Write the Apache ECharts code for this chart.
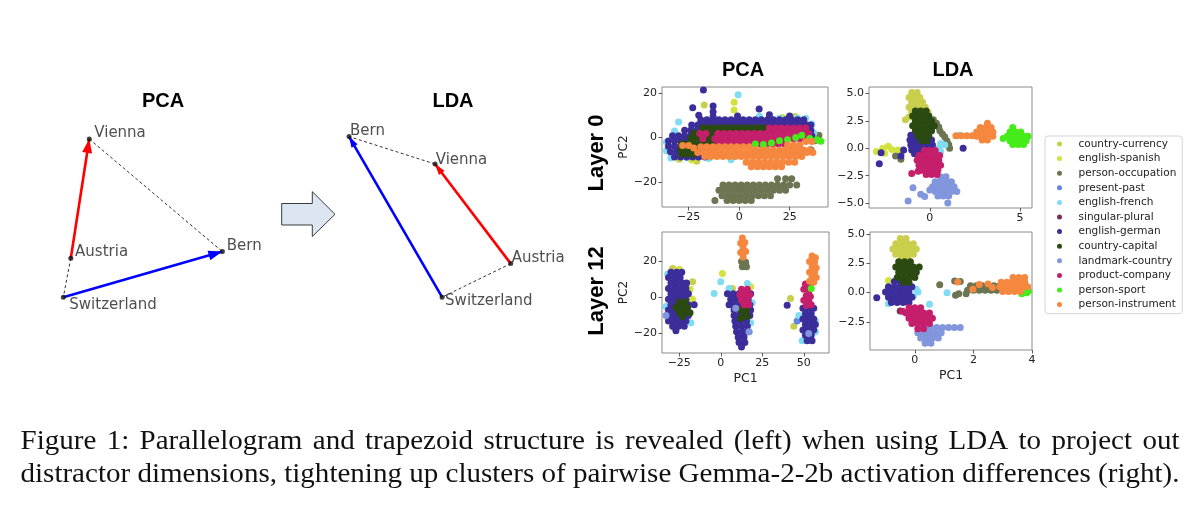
<!DOCTYPE html>
<html><head><meta charset="utf-8">
<script src="https://cdn.jsdelivr.net/npm/echarts@6/dist/echarts.min.js"></script>
<style>html,body{margin:0;padding:0;background:#fff}#c{width:1200px;height:513px}</style>
</head><body><div id="c"></div>
<script>
// ---------- DATA ----------
const categories = ['country-currency','english-spanish','person-occupation','present-past','english-french','singular-plural','english-german','country-capital','landmark-country','product-company','person-sport','person-instrument'];

// Diagram points, order: Vienna, Austria, Switzerland, Bern
const diagramNames = ['Vienna','Austria','Switzerland','Bern'];
const pcaDiagram = [[0.224,0.905],[0.140,0.309],[0.106,0.114],[0.829,0.342]];
const ldaDiagram = [[0.523,0.780],[0.867,0.282],[0.555,0.114],[0.132,0.917]];

// Scatter clusters: per category, rows of [y, x1, x2, ...]
const pcaLayer0 = [
 [[14.6,-17.3],[-9.8,-29.7],[9.4,27.7],[-10.7,-21]],
 [[15.8,-2.5],[12.4,-2.5],[-10.2,-23.5],[9.0,21.5]],
 [[-18.6,19,23,26],[-21.4,-8,-5,-2,1,4,7,10,13,16,19,22,25,28.5],[-23.8,-10,-7,-4,-1,2,5,8,11,14,17,20,23],[-26.2,-8.5,-5.5,-2.5,0.5,3.5,6.5,9.5,12.5,15.5],[-28.4,-12,-6,-3,0,3,6],[1,39.5],[-1.5,37.5],[-5.5,35.5]],
 [[0,-20],[2,5],[-3,-14],[3,25]],
 [[-9.2,-33.8],[2.9,-32],[-2,-36],[-6,-36],[19.2,-0.5],[6.3,-9],[9,24.8],[8.6,33],[8.8,29],[8.6,20],[9.5,10],[-9,-26],[6,36],[2,37],[-9.5,-15],[-10,-4],[7,-30]],
 [[1,-10],[-2,10]],
 [[8,-19,-16,-13,-10,-7,-4,-1,2,5,8,11,14,17,20,23,26,29,32],[5.6,-23.5,-20.5,-17.5,-14.5,-11.5,-8.5,-5.5,-2.5,0.5,3.5,6.5,9.5,12.5,15.5,18.5,21.5,24.5,27.5,30.5,33.5,35.5],[3.2,-27,-24,-21,-18,-15,-12,-9,-6,-3,0,3,6,9,12,15,18,21,24,27,30,33,35.5],[0.8,-33,-30,-27,-24,-21,-18,34,36],[-1.6,-35,-32,-29,-26],[-4,-35,-32,-29],[-6.4,-34,-31,-28,-25],[-8.8,-32,-29,-26,-23,-20,-17],[21.4,-17.7],[13.4,-23],[14.2,-12.9],[11.6,-12.9],[9.4,-12.9],[12.8,9.9],[9.7,-0.8],[10,-20],[10.2,15],[9.6,25]],
 [[4.4,-18,-15,-12,-9,-6,-3,0,3,6,9,12],[2,-22.5,-19.5,-16.5,-13.5,-10.5,-7.5,-4.5,-1.5],[-0.4,-24,-21,-18,-15,-12,-9,-6,-3,0],[-2.8,-28.5,-25.5,-22.5,-19.5,-16.5,-13.5,-10.5,-7.5,-4.5],[-5.2,-29,-26,-23,-20,-17,-14],[-7.6,-28.5,-25.5,-22.5]],
 [[-7,-15],[-6,-12]],
 [[4.2,15,18,21,24,27,30,33],[1.8,-19.5,-16.5,-10.5,-7.5,-4.5,-1.5,1.5,4.5,7.5,10.5,13.5,16.5,19.5,22.5,25.5,28.5,31.5,34.5],[-0.6,-18,-12,-9,-6,-3,0,3,6,9,12,15,18,21,24,27,30,33],[-3,-10.5,-7.5,-4.5,-1.5,1.5,4.5,7.5,10.5,13.5,16.5,19.5,22.5]],
 [[-3,8],[-3.2,12],[-2.5,16],[-1.5,20],[-1,24],[0,28],[1,31],[-1,38.5],[-1.7,40.5],[-0.5,35]],
 [[-3.6,-28,-25],[-4.8,-22.5],[-4.2,-19,-16,-13,-10,-7,-4,-1,2,5],[-3.4,24,27,30],[-1.8,33,36],[-5.6,8,11,14,17,20,23,26,29,32,35],[-6.8,-20.5,-17.5,-14.5,-11.5,-8.5,-5.5,-2.5,0.5,3.5,6.5,9.5,12.5,15.5,18.5,21.5,24.5,27.5,30.5,33.5,36.5],[-8.6,-17,-14,-11,-8,-5,-2,1,4,7,10,13,16,19,22,25,28,31],[-11.2,3.5,6.5,9.5,12.5,15.5,18.5,21.5,24.5,27.5],[-13.2,6,9,12,15,18,21]]
];

const ldaLayer0 = [
 [[5.1,-1.0,-0.7],[4.65,-1.15,-0.85,-0.55],[4.2,-1.0,-0.7,-0.4],[3.75,-1.15,-0.85,-0.55,-0.25],[3.3,-1.0,-0.7,-0.4,-0.1],[2.85,-1.15,-0.3],[2.6,-1.35]],
 [[-0.3,-2.96],[0.2,-2.3],[-0.1,-2.1],[-0.15,-1.76],[-0.5,-1.6],[-0.45,-2.5],[0.0,-2.6]],
 [[2.6,0.2],[2.3,0.37],[1.95,0.5],[1.6,0.56],[1.3,0.7],[1.05,0.83],[0.7,0.95],[0.35,1.05],[0.0,1.1],[-1.0,-1.6],[-0.7,-1.9]],
 [[-3.5,0.7]],
 [[0.3,0.83],[0.45,0.6],[0.0,0.5],[1.2,1.65],[-0.3,0.6]],
 [[-1.5,0]],
 [[1.2,-1.05,-0.75],[0.75,-1.1,-0.8,-0.5,-0.2,0.1],[0.3,-1.05,-0.75,-0.45,-0.15,0.15],[-0.15,-1.0,-0.7,-0.4],[-0.5,-0.85],[-0.4,-2.7],[-1.4,-2.8],[-0.7,-1.6],[-0.15,-1.45],[0.0,1.85]],
 [[3.4,-0.8,-0.5,-0.2],[2.95,-0.95,-0.65,-0.35,-0.05],[2.5,-0.8,-0.5,-0.2,0.1],[2.05,-0.95,-0.65,-0.35,-0.05,0.25],[1.6,-0.8,-0.5,-0.2,0.1],[1.15,-0.65,-0.35,-0.05],[0.7,-0.45,-0.15]],
 [[-2.6,0.6,0.9],[-3.05,0.3,0.6,0.9,1.2],[-3.5,0.15,0.45,0.75,1.05,1.35],[-3.95,0.3,0.6,0.9,1.2,1.5],[-4.35,0.45,0.75,1.05],[-4.8,-1.2],[-3.6,-0.93],[-4.4,-0.28],[-3.8,0.0],[-5.0,1.0],[-4.2,-0.5]],
 [[-0.2,-0.3,0.0,0.3],[-0.65,-0.6,-0.3,0.0,0.3,0.55],[-1.1,-0.7,-0.4,-0.1,0.2,0.5],[-1.55,-0.6,-0.3,0.0,0.3,0.6],[-2.0,-0.45,-0.15,0.15,0.45],[-2.4,-0.2,0.1,0.4],[-2.3,-1.0],[-2.1,-0.65]],
 [[1.9,4.6],[1.5,4.45,4.75,5.05],[1.1,4.3,4.6,4.9,5.2,5.45],[0.7,4.45,4.75,5.05,5.35],[0.35,4.6,4.9,5.2],[0.9,4.07]],
 [[1.15,1.45,1.75,2.05,2.35],[2.3,3.2],[1.9,2.8,3.1,3.4],[1.5,2.6,2.9,3.2,3.5],[1.1,2.6,2.9,3.2,3.5],[0.75,2.9,3.2]]
];

const pcaLayer12 = [
 [[16.1,-29],[8.7,-17],[-12.6,-21.4],[5,7],[-15.9,44],[-0.6,42]],
 [[15.6,-25],[-1,-17],[13.3,1],[6,18],[-12,47],[4.5,-18.5]],
 [[20,12.5],[19.5,15],[17,13],[17,15.5],[7,52]],
 [[-13,46],[-19,17],[-6,9]],
 [[13,-32],[-5,-33],[-14,-18],[-17,-28],[7.8,16],[8.7,0],[2.2,-4],[5,5],[-3,19],[-14,18],[-10,47],[-13,57],[-19,57],[-24,49],[12,-30]],
 [[0,-25],[0,14]],
 [[14,-30,-26.5,-23.5],[11,-31.5,-28,-24.5],[8,-30,-26.5,-23,-20.6],[5,-31.5,-28,-24.5,-21],[2,-30,-26.5,-23,-19.5],[-1,-31.5,-28,-24.5,-21],[-4,-30,-26.5,-23,-19.5,-16],[-7,-31.5,-28,-24.5,-21],[-10,-30,-26.5,-23,-19.5],[-13,-31.5,-28,-24.5,-21],[-16,-29,-25.5,-22],[-18.5,-27],
  [2,4,7.5,11,14.5,18],[-1,6,9.5,13,16.5],[-4,5,7.5,11,14.5,17.5],[-7,8,11.5,15,18],[-10,8,11,14.5,17.5],[-13,8.5,12,15.5],[-16,9,12.5,16],[-19,9.5,13,16],[-22,10.5,14],[-25,11,14.5],[-27.5,12.5],
  [-6,49.5,53,56],[-9,51,54.5],[-12,49.5,53,56],[-15,51,54.5,57],[-18,49.5,53,56],[-21,51,54.5],[-24,52,55],[-4.3,40]],
 [[-2.5,-25,-21.5],[-5.5,-27,-23.5,-20],[-8.5,-25,-21.5,-18.5],[-10.5,-23],[-7,12,15.5],[-10,13.5],[-11.5,12],[-10.5,16]],
 [[-6,9],[-19,17],[-10,-33],[-20,53]],
 [[4.5,12.5,16],[1.5,11.5,14,17.5],[-1.5,12.5,16],[-4,14,17],[7.5,51],[6,53.5],[4.5,50],[3.5,53],[1,51.5],[0.5,54],[-1.5,50],[-2,53],[-4.5,51.5],[-4,54.5]],
 [[5,54.5]],
 [[33,13],[30.5,14.5],[30,12],[27.5,13.5],[25,12],[25.5,15],[22.5,13.5],[23,55],[22,57],[20,53.5],[19.5,56.5],[17,55],[16.5,57.5],[14,53.5],[14,56.5],[11.5,55],[11,57.5],[9,53.5],[8.5,56]]
];

const ldaLayer12 = [
 [[4.65,-0.5,-0.3],[4.2,-0.65,-0.45,-0.25,-0.05],[3.75,-0.75,-0.55,-0.35,-0.15,0.05],[3.3,-0.65,-0.45,-0.25,-0.05],[3.0,-0.45,-0.25]],
 [[1.05,-0.9]],
 [[0.68,0.85],[1.0,1.36],[-0.23,1.39],[0.95,1.55],[0.6,1.9,2.1,2.3,2.5,2.7,2.9],[0.2,1.8,2.0,2.2,2.4,2.6,2.8],[-0.1,1.5,1.75]],
 [[-3.5,0.3]],
 [[0.06,0.11],[0.3,0.05],[-0.3,-0.05],[-1.0,0.5],[-0.95,-0.9],[0.0,1.1]],
 [[-1.57,-0.5]],
 [[0.95,-0.7,-0.5,-0.3],[0.5,-0.9,-0.7,-0.5,-0.3,-0.1],[0.05,-1.0,-0.8,-0.6,-0.4,-0.2],[-0.4,-0.9,-0.7,-0.5,-0.3,-0.1],[-0.85,-0.8,-0.6,-0.4,-0.2],[-0.43,-1.3]],
 [[2.65,-0.55,-0.35,-0.15],[2.2,-0.65,-0.45,-0.25,-0.05,0.15],[1.75,-0.55,-0.35,-0.15,0.05],[1.3,-0.6,-0.4,-0.2,0.0],[0.9,-0.4,-0.2]],
 [[-3.0,0.15,0.35,0.55,0.75,0.95,1.15,1.35,1.55],[-3.45,0.1,0.3,0.5,0.7,0.9],[-3.9,0.2,0.4,0.6,0.8],[-4.35,0.35,0.55]],
 [[-1.3,-0.2,0.0,0.2],[-1.75,-0.3,-0.1,0.1,0.3,0.5],[-2.2,-0.2,0.0,0.2,0.4,0.6],[-2.65,-0.1,0.1,0.3,0.5],[-3.1,0.1,0.3],[-1.6,-0.42]],
 [[0.0,3.82],[0.15,3.88],[-0.1,3.65]],
 [[1.3,3.35,3.55,3.75],[0.9,2.95,3.15,3.35,3.55,3.75],[0.5,2.9,3.1,3.3,3.5,3.7,3.85],[0.1,3.0,3.2,3.4,3.6],[0.91,1.47],[0.3,1.98],[0.7,2.2],[0.75,2.5],[0.45,2.65]]
];

const pcaTicks = [-25, 0, 25];
const pcaTicks12 = [-25, 0, 25, 50];
const pcaYTicks = [-20, 0, 20];
const ldaXTicks0 = [0, 5];
const ldaXTicks12 = [0, 2, 4];
const ldaYTicks0 = [-5, -2.5, 0, 2.5, 5];
const ldaYTicks12 = [-2.5, 0, 2.5, 5];

const captionLines = [
 'Figure 1: Parallelogram and trapezoid structure is revealed (left) when using LDA to project out',
 'distractor dimensions, tightening up clusters of pairwise Gemma-2-2b activation differences (right).'
];

// ---------- STYLE / LAYOUT ----------
const palette = ['#c9cf4c','#d3e23c','#6c7552','#6483e2','#7fdcf2','#7b2e58','#3b2d9a','#2b4a12','#8196dc','#c51f6c','#45ec1a','#f5873f'];
const SANS = 'DejaVu Sans';
const HEAD = 'Liberation Sans';

function expand(rows){ const out=[]; rows.forEach(r=>{ for(let i=1;i<r.length;i++) out.push([r[i], r[0]]); }); return out; }
const fmtInt = v => (v<0 ? '\u2212' + (-v) : '' + v);
const fmtDec = v => (v<0 ? '\u2212' : '') + Math.abs(v).toFixed(1);

const panels = [
 {data:pcaLayer0,  grid:{left:662,top:87,width:166,height:120}, x:[-38.2,44,pcaTicks,fmtInt],  y:[-31.3,22.7,pcaYTicks,fmtInt], yName:'PC2'},
 {data:ldaLayer0,  grid:{left:869,top:87,width:163,height:121}, x:[-3.37,5.67,ldaXTicks0,fmtInt], y:[-5.45,5.6,ldaYTicks0,fmtDec]},
 {data:pcaLayer12, grid:{left:662,top:232,width:167,height:121}, x:[-35.4,65.2,pcaTicks12,fmtInt], y:[-30.8,36.3,pcaYTicks,fmtInt], yName:'PC2', xName:'PC1'},
 {data:ldaLayer12, grid:{left:870,top:232,width:162,height:118}, x:[-1.53,4.0,ldaXTicks12,fmtInt], y:[-4.92,5.2,ldaYTicks12,fmtDec], xName:'PC1'}
];

const grids=[], xAxes=[], yAxes=[], series=[];
const tickStyle = {show:true, length:3.5, inside:false, lineStyle:{color:'#333', width:0.8}};
panels.forEach((p,pi)=>{
  grids.push(Object.assign({show:true, borderColor:'#8a8a8a', borderWidth:1, containLabel:false}, p.grid));
  xAxes.push({type:'value', gridIndex:pi, min:p.x[0], max:p.x[1], splitLine:{show:false},
    axisLine:{show:false,onZero:false},
    axisTick:Object.assign({customValues:p.x[2]}, tickStyle),
    axisLabel:{customValues:p.x[2], formatter:p.x[3], fontFamily:SANS, fontSize:11, color:'#222', margin:5},
    name:p.xName||'', nameLocation:'middle', nameGap:19, nameTextStyle:{fontFamily:SANS, fontSize:12.5, color:'#222'}});
  yAxes.push({type:'value', gridIndex:pi, min:p.y[0], max:p.y[1], splitLine:{show:false},
    axisLine:{show:false,onZero:false},
    axisTick:Object.assign({customValues:p.y[2]}, tickStyle),
    axisLabel:{customValues:p.y[2], formatter:p.y[3], fontFamily:SANS, fontSize:11, color:'#222', margin:5},
    name:p.yName||'', nameLocation:'middle', nameGap:32, nameRotate:90, nameTextStyle:{fontFamily:SANS, fontSize:12, color:'#222'}});
  categories.forEach((c,k)=>{
    series.push({type:'scatter', name:c, xAxisIndex:pi, yAxisIndex:pi, data:expand(p.data[k]),
      symbol:'circle', symbolSize:7, itemStyle:{color:palette[k], opacity:1}, silent:true, emphasis:{disabled:true}});
  });
});

// Diagram grids
const diagGrids = [{left:40,top:120,width:220,height:200},{left:320,top:120,width:220,height:200}];
const diagrams = [
 {pts:pcaDiagram, head:[10,14], labels:[[2.5,-6],[1.8,-5.6],[3.5,7.7],[1.9,-5]]},
 {pts:ldaDiagram, head:[7,11],  labels:[[-1.8,-4],[-1.5,-5.4],[0.5,4.4],[-1.5,-5]]}
];
diagrams.forEach((d,di)=>{
  const gi = grids.length;
  const g = diagGrids[di];
  grids.push(Object.assign({show:false}, g));
  xAxes.push({type:'value', gridIndex:gi, min:0, max:1, show:false});
  yAxes.push({type:'value', gridIndex:gi, min:0, max:1, show:false});
  const P = d.pts; // 0 Vienna, 1 Austria, 2 Switzerland, 3 Bern
  series.push({type:'lines', coordinateSystem:'cartesian2d', xAxisIndex:gi, yAxisIndex:gi, silent:true, z:3,
    symbol:['none','none'], lineStyle:{opacity:1, curveness:0},
    data:[
      {coords:[P[0],P[3]], lineStyle:{color:'#333', width:1, type:[3,2.5], opacity:1}},
      {coords:[P[1],P[2]], lineStyle:{color:'#333', width:1, type:[3,2.5], opacity:1}},
      {coords:[P[1],P[0]], lineStyle:{color:'#ff0000', width:2.6, type:'solid', opacity:1}},
      {coords:[P[2],P[3]], lineStyle:{color:'#0000ff', width:2.6, type:'solid', opacity:1}}
    ]});
  const arrows = [[P[1],P[0],'#ff0000'],[P[2],P[3],'#0000ff']];
  const h = d.head[1];
  series.push({type:'scatter', xAxisIndex:gi, yAxisIndex:gi, silent:true, z:4,
    data: arrows.map(a=>{
      const dx=(a[1][0]-a[0][0])*g.width, dyUp=(a[1][1]-a[0][1])*g.height;
      const len=Math.hypot(dx,dyUp), ux=dx/len, uy=-dyUp/len;
      const ang = Math.atan2(dyUp,dx)*180/Math.PI - 90;
      return {value:a[1], symbolRotate:ang, symbolOffset:[-ux*h/2, -uy*h/2], itemStyle:{color:a[2], opacity:1}};
    }),
    symbol:'triangle', symbolSize:d.head});
  series.push({type:'scatter', xAxisIndex:gi, yAxisIndex:gi, silent:true, z:5,
    symbolSize:5, itemStyle:{color:'#111'},
    data: P.map((pt,i)=>({value:pt, name:diagramNames[i],
      label:{show:true, position:'right', distance:d.labels[i][0], offset:[0,d.labels[i][1]], formatter:'{b}',
        fontFamily:SANS, fontSize:15, color:'#222'}}))});
});

// Caption layout (justified)
const meas = document.createElement('canvas').getContext('2d');
const capLeft = 20.5, capWidth = 1159, capSize = 26.5;
meas.font = capSize + 'px "Liberation Serif"';
const line2W = meas.measureText(captionLines[1]).width;
const capScale = capWidth / line2W;
const capMid = [442, 475];
const graphics = [];
captionLines.forEach((line,li)=>{
  const words = line.split(' ');
  const widths = words.map(w=>meas.measureText(w).width*capScale);
  const total = widths.reduce((a,b)=>a+b,0);
  const gap = (capWidth-total)/(words.length-1);
  let x = capLeft;
  words.forEach((w,i)=>{
    graphics.push({type:'text', x:x, y:capMid[li], scaleX:capScale, silent:true,
      style:{text:w, fontFamily:'Liberation Serif', fontSize:capSize, fill:'#111', verticalAlign:'middle', textVerticalAlign:'middle'}});
    x += widths[i] + gap;
  });
});

function headText(t,x,y,size,rot){
  return {type:'text', x:x, y:y, rotation:rot||0, silent:true,
    style:{text:t, fontFamily:HEAD, fontWeight:'bold', fontSize:size, fill:'#000', align:'center', verticalAlign:'middle', textAlign:'center', textVerticalAlign:'middle'}};
}
graphics.push(headText('PCA',163,101,20));
graphics.push(headText('LDA',453,101,20));
graphics.push(headText('PCA',743,70,20));
graphics.push(headText('LDA',953,70,20));
graphics.push(headText('Layer 0',597,153,22,Math.PI/2));
graphics.push(headText('Layer 12',597,291,22,Math.PI/2));
graphics.push({type:'polygon', silent:true,
  shape:{points:[[281.7,203.5],[312.3,203.5],[312.3,191.7],[335,214.3],[312.3,236.5],[312.3,225],[281.7,225]]},
  style:{fill:'#dce6f2', stroke:'#3a3a3a', lineWidth:1}});

const chart = echarts.init(document.getElementById('c'), null, {renderer:'canvas', width:1200, height:513});
chart.setOption({
  animation:false,
  backgroundColor:'#fff',
  grid:grids, xAxis:xAxes, yAxis:yAxes, series:series,
  legend:{data:categories, orient:'vertical', left:1045, top:136, padding:[2,6,3,12],
    itemWidth:28, itemHeight:5, itemGap:2.6, icon:'circle', symbolKeepAspect:true,
    borderColor:'#d6d6d6', borderWidth:1, borderRadius:3, selectedMode:false,
    textStyle:{fontFamily:SANS, fontSize:10.5, color:'#222', lineHeight:12}},
  graphic:graphics
});
</script></body></html>
